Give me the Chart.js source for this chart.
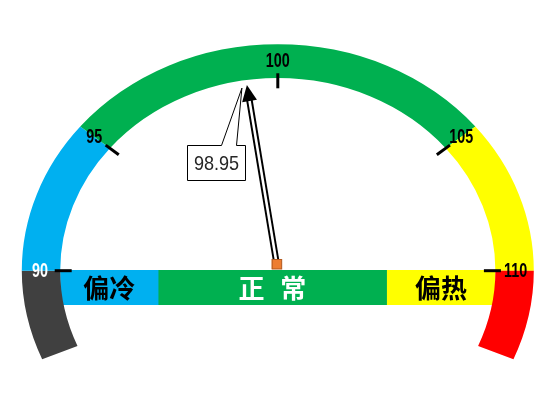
<!DOCTYPE html>
<html><head><meta charset="utf-8">
<script src="https://cdn.jsdelivr.net/npm/chart.js@4/dist/chart.umd.min.js"></script>
<style>
html,body{margin:0;padding:0;background:#fff;}
#wrap{position:relative;width:544px;height:403px;}
#wrap canvas{position:absolute;left:0;top:0;}
</style></head>
<body><div id="wrap"><canvas id="band" width="544" height="403"></canvas><canvas id="gauge" width="544" height="403"></canvas></div>
<script>
// ---------- data ----------
const zoneNames = ['<90', '90-95', '95-105', '105-110', '>110'];
const zoneArcs = [23, 39.5, 101, 39.5, 23];            // degrees of the dial covered by each zone
const zoneColors = ['#404040', '#00B0F0', '#00B050', '#FFFF00', '#FF0000'];
const scaleEdges = [90, 95, 105, 110];                 // values at the borders of zones 1..3
const tickValues = [90, 95, 100, 105, 110];
const tickLabels = ['90', '95', '100', '105', '110'];
const tickLabelColors = ['#FFFFFF', '#000000', '#000000', '#000000', '#000000'];
const bandLabels = ['偏冷', '正 常', '偏热'];
const bandEdges = [90, 94.5, 105, 110];
const bandColors = ['#00B0F0', '#00B050', '#FFFF00'];
const bandTextColors = ['#000000', '#FFFFFF', '#000000'];
const needleValue = 98.95;
const needleRange = [90, 110];

// ---------- layout / style ----------
const W = 544, H = 403;
const CX = 277.8, CY = 270.7, R_OUT = 256, CUT = 0.85, SY = 0.885;
const R_IN = R_OUT * CUT;
const BAND_TOP = 270, BAND_H = 35;
const totalArc = zoneArcs.reduce((a, b) => a + b, 0);
const below = (totalArc - 180) / 2 * Math.PI / 180;
const offY = (1 - Math.sin(below)) / 2 * R_OUT;
const areaCY = CY - offY;

function toPix(ctr, a, r) {
  return [ctr.x + r * Math.cos(a), ctr.y + SY * r * Math.sin(a)];
}
function dialAngle(meta, v) {
  for (let k = 0; k < scaleEdges.length - 1; k++) {
    const lo = scaleEdges[k], hi = scaleEdges[k + 1];
    if (v >= lo && v <= hi) {
      const el = meta.data[k + 1];
      return el.startAngle + (v - lo) / (hi - lo) * (el.endAngle - el.startAngle);
    }
  }
  return null;
}
function narrowText(ctx, text, x, y, sx) {
  ctx.save();
  ctx.translate(x, y);
  ctx.scale(sx, 1);
  ctx.fillText(text, 0, 0);
  ctx.restore();
}

const ellipsePlugin = {
  id: 'ellipse',
  beforeDatasetsDraw(chart) {
    const el = chart.getDatasetMeta(0).data[0];
    const ctx = chart.ctx;
    ctx.save();
    ctx.translate(el.x, el.y);
    ctx.scale(1, SY);
    ctx.translate(-el.x, -el.y);
  },
  afterDatasetsDraw(chart) { chart.ctx.restore(); }
};

const overlayPlugin = {
  id: 'overlay',
  afterDraw(chart) {
    const ctx = chart.ctx;
    const meta = chart.getDatasetMeta(0);
    const ctr = meta.data[0];
    const ri = ctr.innerRadius, ro = ctr.outerRadius;
    // ticks
    ctx.save();
    ctx.strokeStyle = '#000';
    ctx.lineWidth = 3;
    tickValues.forEach((v) => {
      const a = dialAngle(meta, v);
      const p1 = toPix(ctr, a, ri - 11.5), p2 = toPix(ctr, a, ri + 5.5);
      ctx.beginPath(); ctx.moveTo(p1[0], p1[1]); ctx.lineTo(p2[0], p2[1]); ctx.stroke();
    });
    // tick labels
    ctx.font = 'bold 20.5px "Liberation Sans Narrow", "Liberation Sans", sans-serif';
    ctx.textAlign = 'center';
    ctx.textBaseline = 'middle';
    tickValues.forEach((v, i) => {
      const a = dialAngle(meta, v);
      const p = toPix(ctr, a, (ri + ro) / 2 + 1);
      ctx.fillStyle = tickLabelColors[i];
      narrowText(ctx, tickLabels[i], p[0], p[1] + 1, 0.7);
    });
    // needle
    const a = Math.PI + (needleValue - needleRange[0]) / (needleRange[1] - needleRange[0]) * Math.PI;
    const dx = Math.cos(a), dy = Math.sin(a);
    const rEdge = 1 / Math.sqrt(Math.pow(dx / ri, 2) + Math.pow(dy / (ri * SY), 2));
    const tipD = rEdge - 5, headLen = 16, headHalf = 7.5;
    const P = (d, n) => [ctr.x + dx * d - dy * n, ctr.y + dy * d + dx * n];
    const sq = P(6.8, 0);
    const sEnd = P(tipD - headLen + 1, 0);
    ctx.lineCap = 'butt';
    ctx.beginPath(); ctx.moveTo(sq[0], sq[1]); ctx.lineTo(sEnd[0], sEnd[1]);
    ctx.strokeStyle = '#000'; ctx.lineWidth = 6.5; ctx.stroke();
    ctx.beginPath(); ctx.moveTo(sq[0], sq[1]); ctx.lineTo(sEnd[0], sEnd[1]);
    ctx.strokeStyle = '#fff'; ctx.lineWidth = 2.6; ctx.stroke();
    const tip = P(tipD, 0), b1 = P(tipD - headLen, headHalf), b2 = P(tipD - headLen, -headHalf);
    ctx.beginPath(); ctx.moveTo(tip[0], tip[1]); ctx.lineTo(b1[0], b1[1]); ctx.lineTo(b2[0], b2[1]); ctx.closePath();
    ctx.fillStyle = '#000'; ctx.fill();
    // pivot square
    ctx.fillStyle = '#ED7D31'; ctx.strokeStyle = '#B35A1F'; ctx.lineWidth = 1;
    ctx.fillRect(sq[0] - 5, sq[1] - 5, 10, 10);
    ctx.strokeRect(sq[0] - 5 + 0.5, sq[1] - 5 + 0.5, 9.5, 9.5);
    // callout
    const pt = [tip[0] - 5, tip[1] + 3];
    const bx = Math.round(pt[0] - 54.5) + 0.5, by = Math.round(pt[1] + 57) + 0.5, bw = 58, bh = 35;
    ctx.beginPath();
    ctx.moveTo(bx, by);
    ctx.lineTo(bx + 34, by);
    ctx.lineTo(pt[0], pt[1]);
    ctx.lineTo(bx + 49, by);
    ctx.lineTo(bx + bw, by);
    ctx.lineTo(bx + bw, by + bh);
    ctx.lineTo(bx, by + bh);
    ctx.closePath();
    ctx.fillStyle = '#fff'; ctx.fill();
    ctx.strokeStyle = '#000'; ctx.lineWidth = 1; ctx.stroke();
    ctx.font = '21px "Liberation Sans Narrow", "Liberation Sans", sans-serif';
    ctx.fillStyle = '#262626';
    narrowText(ctx, needleValue.toFixed(2), bx + bw / 2, by + bh / 2 + 1, 0.86);
    ctx.restore();
  }
};

new Chart(document.getElementById('gauge'), {
  type: 'doughnut',
  data: {
    labels: zoneNames,
    datasets: [{ data: zoneArcs, backgroundColor: zoneColors, borderWidth: 0, hoverOffset: 0 }]
  },
  options: {
    responsive: false,
    animation: false,
    events: [],
    rotation: -totalArc / 2,
    circumference: totalArc,
    cutout: (CUT * 100) + '%',
    radius: R_OUT,
    layout: { padding: { left: Math.max(0, 2 * CX - W), right: Math.max(0, W - 2 * CX), top: Math.max(0, 2 * areaCY - H), bottom: Math.max(0, H - 2 * areaCY) } },
    plugins: { legend: { display: false }, tooltip: { enabled: false } }
  },
  plugins: [ellipsePlugin, overlayPlugin]
});

const bandTextPlugin = {
  id: 'bandText',
  afterDatasetsDraw(chart) {
    const ctx = chart.ctx;
    ctx.save();
    ctx.font = 'bold 26px "Noto Sans CJK SC", sans-serif';
    ctx.textAlign = 'center';
    ctx.textBaseline = 'middle';
    bandLabels.forEach((lab, i) => {
      const el = chart.getDatasetMeta(i).data[0];
      const ls = lab.includes(' ') ? 5 : 0;
      ctx.letterSpacing = ls + 'px';
      ctx.fillStyle = bandTextColors[i];
      ctx.fillText(lab, (el.x + el.base) / 2 + ls / 2, el.y + 1);
    });
    ctx.restore();
  }
};

new Chart(document.getElementById('band'), {
  type: 'bar',
  data: {
    labels: ['band'],
    datasets: bandLabels.map((lab, i) => ({
      label: lab,
      data: [[bandEdges[i], bandEdges[i + 1]]],
      backgroundColor: bandColors[i],
      borderWidth: 0,
      barPercentage: 1,
      categoryPercentage: 1,
      grouped: false
    }))
  },
  options: {
    indexAxis: 'y',
    responsive: false,
    animation: false,
    events: [],
    layout: { padding: { left: CX - R_IN, right: W - (CX + R_IN), top: BAND_TOP, bottom: H - BAND_TOP - BAND_H } },
    scales: {
      x: { display: false, min: bandEdges[0], max: bandEdges[bandEdges.length - 1] },
      y: { display: false }
    },
    plugins: { legend: { display: false }, tooltip: { enabled: false } }
  },
  plugins: [bandTextPlugin]
});
</script>
</body></html>
